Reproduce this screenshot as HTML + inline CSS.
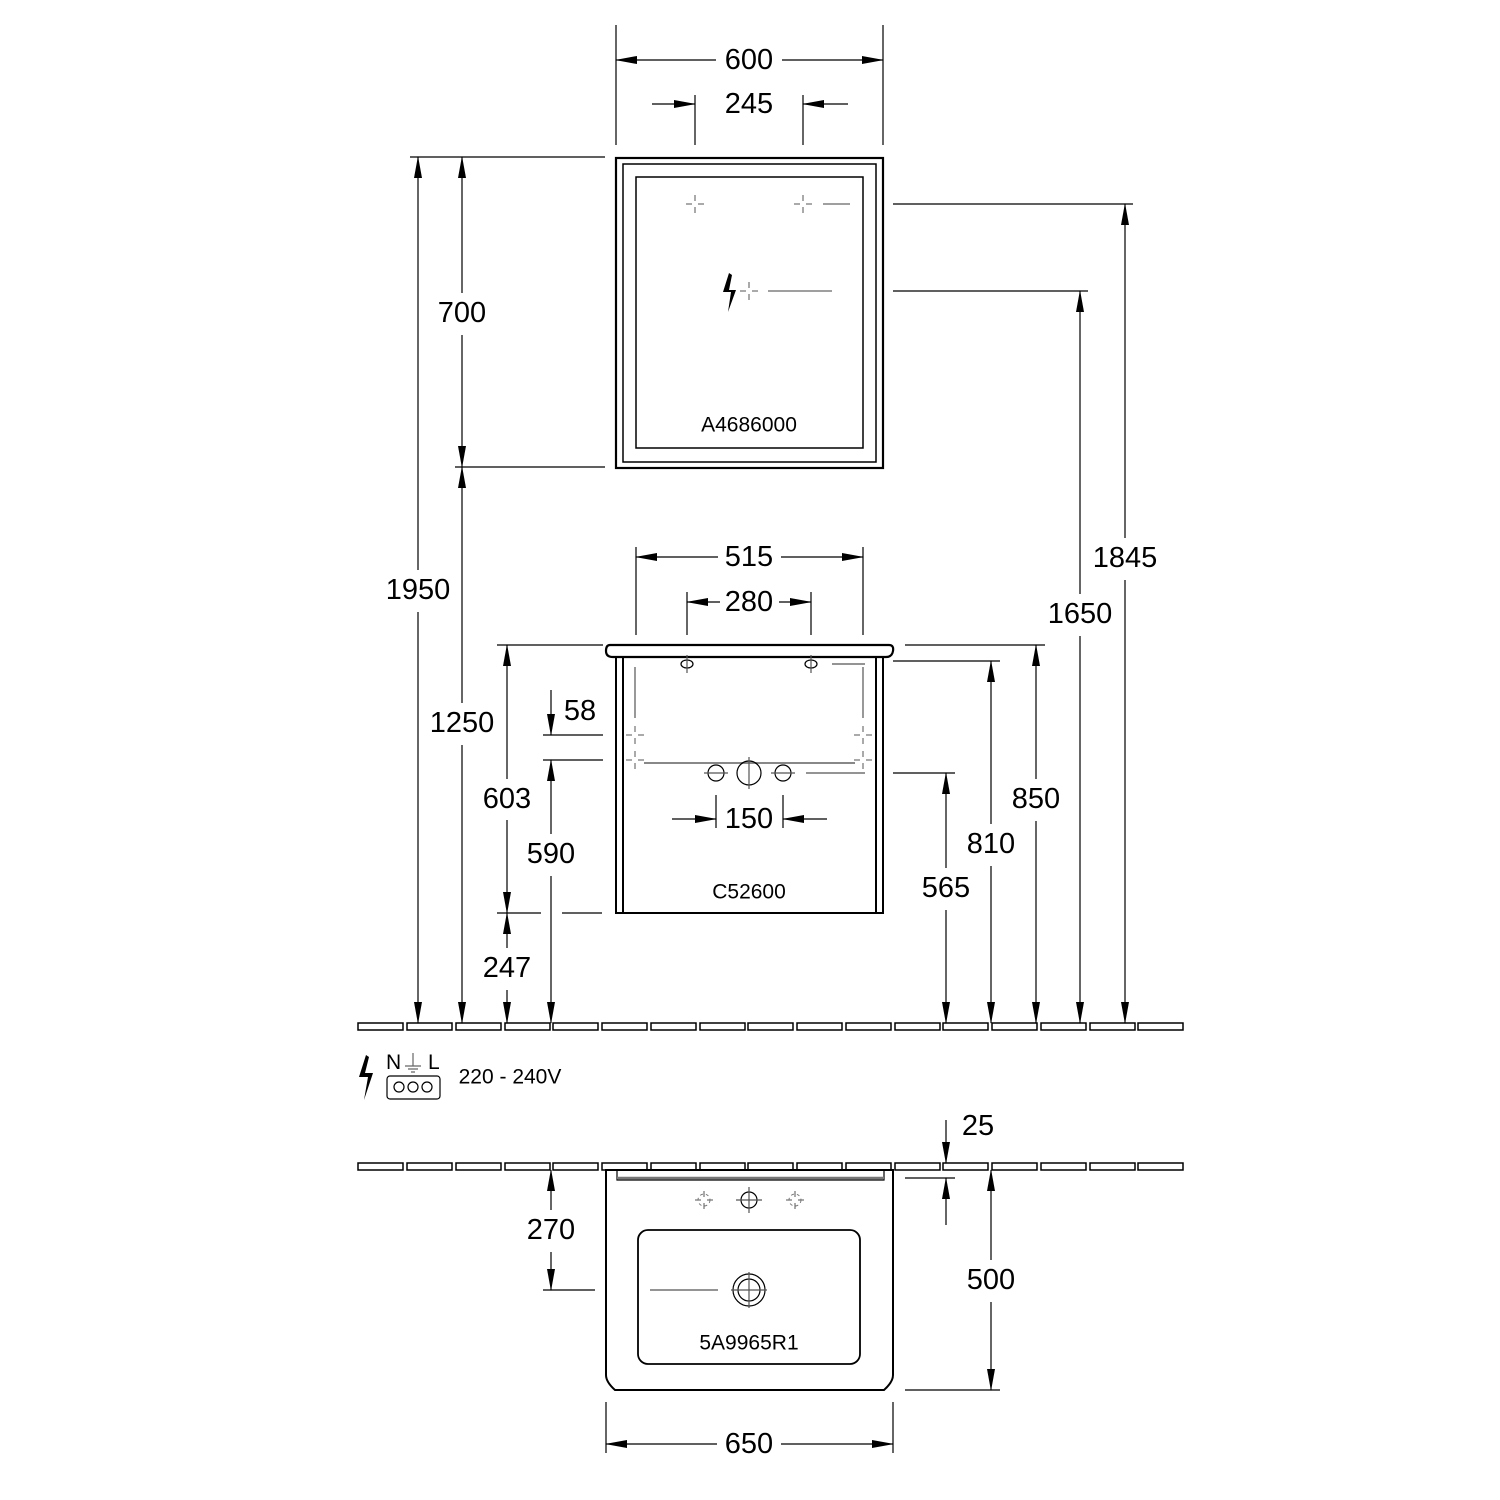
<!DOCTYPE html>
<html><head><meta charset="utf-8"><style>
html,body{margin:0;padding:0;background:#fff}
svg{display:block}
text{font-family:"Liberation Sans",sans-serif;fill:#000}
.d{font-size:29px;text-anchor:middle;dominant-baseline:central}
.l{font-size:21px;text-anchor:middle;dominant-baseline:central}
</style></head><body>
<svg width="1500" height="1500" viewBox="0 0 1500 1500" xmlns="http://www.w3.org/2000/svg">
<defs>
<marker id="a" markerWidth="22" markerHeight="10" refX="21" refY="5" orient="auto" markerUnits="userSpaceOnUse">
<path d="M0,1 L22,5 L0,9 Z" fill="#000"/></marker>
<g id="cr" stroke="#555" stroke-width="1" fill="none"><path d="M-9,0h6M3,0h6M0,-9v6M0,3v6"/></g>
</defs>
<g stroke="#000" stroke-width="1.2" fill="none">
<rect x="616" y="158" width="267" height="310" stroke-width="2.2"/>
<rect x="623" y="164" width="253" height="298" stroke-width="1.5"/>
<rect x="636" y="177" width="227" height="271" stroke-width="1.5"/>
<path d="M616,25V145M883,25V145M695,95V145M803,95V145"/>
<line x1="716" y1="60" x2="616" y2="60" marker-end="url(#a)"/>
<line x1="782" y1="60" x2="883" y2="60" marker-end="url(#a)"/>
<line x1="652" y1="104" x2="695" y2="104" marker-end="url(#a)"/>
<line x1="848" y1="104" x2="803" y2="104" marker-end="url(#a)"/>
<path d="M410,157H605M455,467H605M893,204H1133M893,291H1088"/>
<path d="M823,204H850M768,291H832" stroke="#666"/>
<line x1="418" y1="570" x2="418" y2="157" marker-end="url(#a)"/>
<line x1="418" y1="612" x2="418" y2="1023" marker-end="url(#a)"/>
<line x1="462" y1="293" x2="462" y2="157" marker-end="url(#a)"/>
<line x1="462" y1="335" x2="462" y2="467" marker-end="url(#a)"/>
<line x1="462" y1="703" x2="462" y2="467" marker-end="url(#a)"/>
<line x1="462" y1="745" x2="462" y2="1023" marker-end="url(#a)"/>
<line x1="1125" y1="538" x2="1125" y2="204" marker-end="url(#a)"/>
<line x1="1125" y1="580" x2="1125" y2="1023" marker-end="url(#a)"/>
<line x1="1080" y1="594" x2="1080" y2="291" marker-end="url(#a)"/>
<line x1="1080" y1="636" x2="1080" y2="1023" marker-end="url(#a)"/>
<path d="M610,645H889Q894,645 893,651Q892,657 886,657H613Q606,657 606,651Q606,645 610,645Z" stroke-width="2.2"/>
<path d="M616,657V913H883V657M623,657V913M876,657V913" stroke-width="2"/>
<ellipse cx="687" cy="664" rx="6" ry="4"/><ellipse cx="811" cy="664" rx="6" ry="4"/>
<path d="M687,655V673M811,655V673M832,664H865" stroke="#555"/>
<path d="M635,667V718M863,667V718" stroke="#555"/>
<path d="M644,763H855" stroke="#888" stroke-width="2"/>
<circle cx="716" cy="773" r="8"/><circle cx="749" cy="773" r="12"/><circle cx="783" cy="773" r="8"/>
<path d="M806,773H865M749,757V789M704,773H728M771,773H795" stroke="#555"/>
<path d="M636,547V635M863,547V635M687,592V635M811,592V635"/>
<line x1="718" y1="557" x2="636" y2="557" marker-end="url(#a)"/>
<line x1="781" y1="557" x2="863" y2="557" marker-end="url(#a)"/>
<line x1="720" y1="602" x2="687" y2="602" marker-end="url(#a)"/>
<line x1="779" y1="602" x2="811" y2="602" marker-end="url(#a)"/>
<path d="M716,795V828M783,795V828"/>
<line x1="672" y1="819" x2="716" y2="819" marker-end="url(#a)"/>
<line x1="827" y1="819" x2="783" y2="819" marker-end="url(#a)"/>
<path d="M497,645H603M497,913H541M562,913H602M543,735H603M543,760H603"/>
<line x1="507" y1="779" x2="507" y2="645" marker-end="url(#a)"/>
<line x1="507" y1="820" x2="507" y2="913" marker-end="url(#a)"/>
<line x1="507" y1="948" x2="507" y2="913" marker-end="url(#a)"/>
<line x1="507" y1="990" x2="507" y2="1023" marker-end="url(#a)"/>
<line x1="551" y1="690" x2="551" y2="735" marker-end="url(#a)"/>
<line x1="551" y1="834" x2="551" y2="760" marker-end="url(#a)"/>
<line x1="551" y1="876" x2="551" y2="1023" marker-end="url(#a)"/>
<path d="M893,773H955M893,661H1000M905,645H1045"/>
<line x1="946" y1="868" x2="946" y2="773" marker-end="url(#a)"/>
<line x1="946" y1="910" x2="946" y2="1023" marker-end="url(#a)"/>
<line x1="991" y1="824" x2="991" y2="661" marker-end="url(#a)"/>
<line x1="991" y1="866" x2="991" y2="1023" marker-end="url(#a)"/>
<line x1="1036" y1="779" x2="1036" y2="645" marker-end="url(#a)"/>
<line x1="1036" y1="821" x2="1036" y2="1023" marker-end="url(#a)"/>
<g stroke-width="1.5">
<rect x="358" y="1023" width="45" height="7"/><rect x="407" y="1023" width="45" height="7"/><rect x="456" y="1023" width="45" height="7"/><rect x="505" y="1023" width="45" height="7"/><rect x="553" y="1023" width="45" height="7"/><rect x="602" y="1023" width="45" height="7"/><rect x="651" y="1023" width="45" height="7"/><rect x="700" y="1023" width="45" height="7"/><rect x="748" y="1023" width="45" height="7"/><rect x="797" y="1023" width="45" height="7"/><rect x="846" y="1023" width="45" height="7"/><rect x="895" y="1023" width="45" height="7"/><rect x="943" y="1023" width="45" height="7"/><rect x="992" y="1023" width="45" height="7"/><rect x="1041" y="1023" width="45" height="7"/><rect x="1090" y="1023" width="45" height="7"/><rect x="1138" y="1023" width="45" height="7"/>
<rect x="358" y="1163" width="45" height="7"/><rect x="407" y="1163" width="45" height="7"/><rect x="456" y="1163" width="45" height="7"/><rect x="505" y="1163" width="45" height="7"/><rect x="553" y="1163" width="45" height="7"/><rect x="602" y="1163" width="45" height="7"/><rect x="651" y="1163" width="45" height="7"/><rect x="700" y="1163" width="45" height="7"/><rect x="748" y="1163" width="45" height="7"/><rect x="797" y="1163" width="45" height="7"/><rect x="846" y="1163" width="45" height="7"/><rect x="895" y="1163" width="45" height="7"/><rect x="943" y="1163" width="45" height="7"/><rect x="992" y="1163" width="45" height="7"/><rect x="1041" y="1163" width="45" height="7"/><rect x="1090" y="1163" width="45" height="7"/><rect x="1138" y="1163" width="45" height="7"/>
</g>
<rect x="387" y="1076" width="53" height="23" rx="3"/>
<circle cx="399" cy="1087" r="5"/><circle cx="413" cy="1087" r="5"/><circle cx="427" cy="1087" r="5"/>
<path d="M413,1053V1066M405,1066H421M408,1069H418M411,1072H415" stroke="#666"/>
<path d="M606,1170H893V1375Q893,1382 884,1390H615Q606,1382 606,1375Z" stroke-width="2"/>
<path d="M617,1170V1180H884V1170" />
<path d="M617,1178H884" stroke="#777" stroke-width="2.5"/>
<circle cx="749" cy="1200" r="8"/><path d="M749,1187V1213M736,1200H762" stroke="#555"/>
<rect x="638" y="1230" width="222" height="134" rx="10" stroke-width="1.8"/>
<circle cx="749" cy="1290" r="16"/><circle cx="749" cy="1290" r="11"/>
<path d="M650,1290H718M749,1272V1308M731,1290H767" stroke="#555"/>
<path d="M543,1290H595M905,1178H955M905,1390H1000M606,1402V1453M893,1402V1453"/>
<line x1="551" y1="1210" x2="551" y2="1170" marker-end="url(#a)"/>
<line x1="551" y1="1252" x2="551" y2="1290" marker-end="url(#a)"/>
<line x1="946" y1="1120" x2="946" y2="1163" marker-end="url(#a)"/>
<line x1="946" y1="1225" x2="946" y2="1178" marker-end="url(#a)"/>
<line x1="991" y1="1260" x2="991" y2="1170" marker-end="url(#a)"/>
<line x1="991" y1="1302" x2="991" y2="1390" marker-end="url(#a)"/>
<line x1="717" y1="1444" x2="606" y2="1444" marker-end="url(#a)"/>
<line x1="781" y1="1444" x2="893" y2="1444" marker-end="url(#a)"/>
</g>
<use href="#cr" x="695" y="204"/><use href="#cr" x="803" y="204"/><use href="#cr" x="749" y="291"/>
<use href="#cr" x="635" y="735"/><use href="#cr" x="863" y="735"/><use href="#cr" x="635" y="760"/><use href="#cr" x="863" y="760"/>
<use href="#cr" x="704" y="1200"/><use href="#cr" x="795" y="1200"/>
<circle cx="704" cy="1200" r="6" fill="none" stroke="#777" stroke-dasharray="3 3"/><circle cx="795" cy="1200" r="6" fill="none" stroke="#777" stroke-dasharray="3 3"/>
<path d="M729,273L723,292L731,292L728,312L736,290L729,290L732,275Z" fill="#000"/>
<path d="M366,1055L359,1077L368,1077L364,1100L373,1073L365,1073L369,1057Z" fill="#000"/>
<text class="d" x="749" y="60">600</text>
<text class="d" x="749" y="104">245</text>
<text class="l" x="749" y="425">A4686000</text>
<text class="d" x="462" y="313">700</text>
<text class="d" x="418" y="590">1950</text>
<text class="d" x="462" y="723">1250</text>
<text class="d" x="1125" y="558">1845</text>
<text class="d" x="1080" y="614">1650</text>
<text class="d" x="749" y="557">515</text>
<text class="d" x="749" y="602">280</text>
<text class="d" x="580" y="711">58</text>
<text class="d" x="507" y="799">603</text>
<text class="d" x="551" y="854">590</text>
<text class="d" x="507" y="968">247</text>
<text class="d" x="749" y="819">150</text>
<text class="l" x="749" y="892">C52600</text>
<text class="d" x="946" y="888">565</text>
<text class="d" x="991" y="844">810</text>
<text class="d" x="1036" y="799">850</text>
<text x="386" y="1069" style="font-size:21px">N</text>
<text x="428" y="1069" style="font-size:21px">L</text>
<text class="l" x="510" y="1077">220 - 240V</text>
<text class="d" x="978" y="1126">25</text>
<text class="d" x="551" y="1230">270</text>
<text class="d" x="991" y="1280">500</text>
<text class="l" x="749" y="1343">5A9965R1</text>
<text class="d" x="749" y="1444">650</text>
</svg>
</body></html>
